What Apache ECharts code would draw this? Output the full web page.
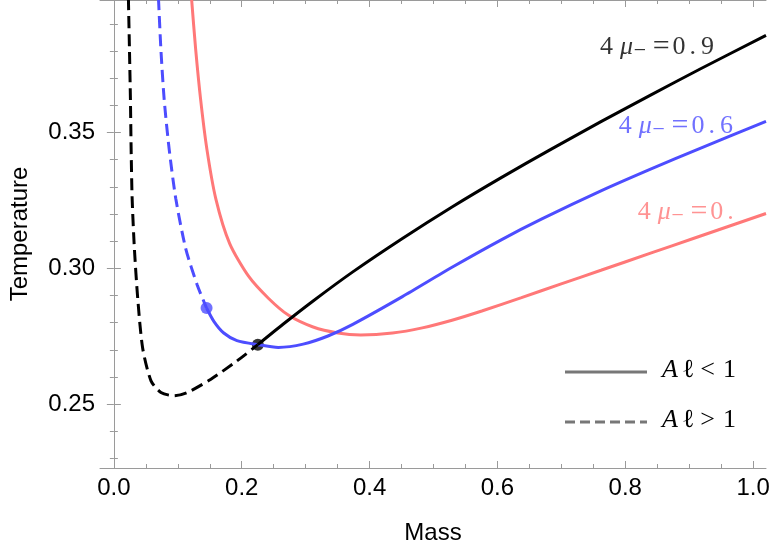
<!DOCTYPE html>
<html><head><meta charset="utf-8">
<script src="https://cdn.jsdelivr.net/npm/echarts@6/dist/echarts.min.js"></script>
<style>html,body{margin:0;padding:0;background:#fff}#c{width:773px;height:550px}</style>
</head><body><div id="c"></div>
<script>
// ---- data ----
const xMajorTicks = [0.0, 0.2, 0.4, 0.6, 0.8, 1.0];
const xMinorTicks = [0.05, 0.1, 0.15, 0.25, 0.3, 0.35, 0.45, 0.5, 0.55, 0.65, 0.7, 0.75, 0.85, 0.9, 0.95];
const yMajorTicks = [0.25, 0.30, 0.35];
const yMinorTicks = [0.23, 0.24, 0.26, 0.27, 0.28, 0.29, 0.31, 0.32, 0.33, 0.34, 0.36, 0.37, 0.38, 0.39];

// 4 mu = 0  (all A l < 1)
const redMass = [0.1193, 0.1217, 0.1280, 0.1357, 0.1455, 0.1595, 0.1812, 0.2107, 0.2417, 0.2728, 0.3117, 0.3505, 0.3862, 0.4359, 0.4825, 0.5290, 0.5756, 0.6377, 0.6998, 0.7620, 0.8396, 0.9064, 1.0202];
const redTemp = [0.4061, 0.3988, 0.3805, 0.3622, 0.3439, 0.3256, 0.3091, 0.2971, 0.2890, 0.2828, 0.2784, 0.2762, 0.2755, 0.2762, 0.2781, 0.2809, 0.2843, 0.2892, 0.2943, 0.2993, 0.3056, 0.3110, 0.3202];

// 4 mu = 0.6
const blueDashMass = [0.0686, 0.0699, 0.0736, 0.0787, 0.0865, 0.0969, 0.1124, 0.1304, 0.1450];
const blueDashTemp = [0.4061, 0.3988, 0.3805, 0.3622, 0.3439, 0.3256, 0.3073, 0.2939, 0.2854];
const blueSolidMass = [0.1450, 0.1564, 0.1719, 0.1925, 0.2252, 0.2573, 0.2961, 0.3349, 0.3738, 0.4514, 0.5290, 0.6067, 0.6688, 0.7620, 0.8396, 0.9172, 1.0202];
const blueSolidTemp = [0.2854, 0.2805, 0.2762, 0.2734, 0.2719, 0.2709, 0.2721, 0.2751, 0.2794, 0.2896, 0.3004, 0.3106, 0.3181, 0.3285, 0.3365, 0.3442, 0.3541];

// 4 mu = 0.9
const blackDashMass = [0.0224, 0.0228, 0.0244, 0.0259, 0.0270, 0.0286, 0.0321, 0.0373, 0.0450, 0.0581, 0.0736, 0.0943, 0.1149, 0.1512, 0.1925, 0.2252];
const blackDashTemp = [0.4061, 0.3988, 0.3805, 0.3622, 0.3439, 0.3256, 0.3073, 0.2890, 0.2707, 0.2586, 0.2543, 0.2531, 0.2543, 0.2591, 0.2659, 0.2719];
const blackSolidMass = [0.2252, 0.2651, 0.3117, 0.3738, 0.4514, 0.5290, 0.6067, 0.6843, 0.7620, 0.8396, 0.9172, 1.0202];
const blackSolidTemp = [0.2719, 0.2795, 0.2880, 0.2987, 0.3110, 0.3226, 0.3335, 0.3439, 0.3540, 0.3638, 0.3734, 0.3858];

// transition points (A l = 1)
const blueDot = [0.1450, 0.2854];
const blackDot = [0.2252, 0.2719];

const curveValues = ['0.9', '0.6', '0.'];
const legendLabels = ['<', '>'];

// ---- styling ----
const X_MIN = -0.0217, X_MAX = 1.0202, Y_MIN = 0.2265, Y_MAX = 0.3988;
const FRAME = '#9a9a9a';
const BLACK = '#000000', BLUE = '#4d4dff', RED = '#ff7878';
const SANS = '"Liberation Sans", Arial, sans-serif';
const SERIF = '"Liberation Serif", "DejaVu Serif", serif';
const zip = (a, b) => a.map((v, i) => [v, b[i]]);

function tickAxis(kind, position, ticks, len, showLine, showLabels, extra) {
  return {
    type: 'value', position, min: kind === 'x' ? X_MIN : Y_MIN, max: kind === 'x' ? X_MAX : Y_MAX,
    splitLine: { show: false },
    axisLine: { show: showLine, lineStyle: { color: FRAME, width: 1 } },
    axisTick: { show: true, inside: true, length: len, customValues: ticks, lineStyle: { color: FRAME, width: 1 } },
    axisLabel: showLabels ? Object.assign({ show: true, customValues: ticks, color: '#000', fontFamily: SANS, fontSize: 24 }, extra) : { show: false }
  };
}

const xAxes = [
  Object.assign(tickAxis('x', 'bottom', xMajorTicks, 7, true, true, { margin: 8, formatter: v => v.toFixed(1) }),
    { name: 'Mass', nameLocation: 'middle', nameGap: 53, nameTextStyle: { color: '#000', fontFamily: SANS, fontSize: 24 } }),
  tickAxis('x', 'bottom', xMinorTicks, 4, false, false),
  tickAxis('x', 'top', xMajorTicks, 7, true, false),
  tickAxis('x', 'top', xMinorTicks, 4, false, false)
];
const yAxes = [
  Object.assign(tickAxis('y', 'left', yMajorTicks, 7, true, true, { margin: 5, formatter: v => v.toFixed(2) }),
    { name: 'Temperature', nameLocation: 'middle', nameGap: 68, nameTextStyle: { color: '#000', fontFamily: SANS, fontSize: 24 } }),
  tickAxis('y', 'left', yMinorTicks, 4, false, false),
  tickAxis('y', 'right', yMajorTicks, 7, true, false),
  tickAxis('y', 'right', yMinorTicks, 4, false, false)
];

function lineSeries(mass, temp, color, dashed) {
  return {
    type: 'line', data: zip(mass, temp), showSymbol: false, smooth: 0.25, clip: true, silent: true,
    lineStyle: { color, width: 3, type: dashed ? [12, 6] : 'solid', cap: 'butt' }
  };
}

function labelRich(color) {
  const f = { fontFamily: SERIF, fontSize: 26, color };
  return {
    n: f,
    m: Object.assign({}, f, { fontStyle: 'italic', padding: [0, 0, 0, 7] }),
    s: Object.assign({}, f, { padding: [0, 6, 0, 0] }),
    e: Object.assign({}, f, { padding: [0, 3, 0, 0], fontSize: 30 }),
    p: Object.assign({}, f, { padding: [0, 5, 0, 4] }),
    a: Object.assign({}, f, { fontStyle: 'italic', padding: [0, 4, 0, 0] }),
    r: Object.assign({}, f, { padding: [0, 8, 0, 6] })
  };
}
function curveText(value) {
  const parts = value.split('.');
  return '{n|4}{m|μ}{s|₋}{e|=}{n|' + parts[0] + '}{p|.}' + (parts[1] ? '{n|' + parts[1] + '}' : '');
}
function curveLabelSeries(value, pos, color) {
  return {
    type: 'scatter', data: [pos], symbolSize: 0, silent: true,
    label: { show: true, position: [0, 0], align: 'left', verticalAlign: 'middle', formatter: curveText(value), rich: labelRich(color) }
  };
}

const chart = echarts.init(document.getElementById('c'), null, { renderer: 'canvas' });
chart.setOption({
  animation: false,
  backgroundColor: '#fff',
  grid: { left: 95, right: 7, top: 0, bottom: 79, containLabel: false },
  xAxis: xAxes,
  yAxis: yAxes,
  series: [
    lineSeries(redMass, redTemp, RED, false),
    lineSeries(blueDashMass, blueDashTemp, BLUE, true),
    lineSeries(blueSolidMass, blueSolidTemp, BLUE, false),
    lineSeries(blackDashMass, blackDashTemp, BLACK, true),
    lineSeries(blackSolidMass, blackSolidTemp, BLACK, false),
    { type: 'scatter', data: [blueDot], symbolSize: 12, itemStyle: { color: BLUE }, silent: true },
    { type: 'scatter', data: [blackDot], symbolSize: 12, itemStyle: { color: BLACK }, silent: true },
    curveLabelSeries(curveValues[0], [0.7604, 0.3816], BLACK),
    curveLabelSeries(curveValues[1], [0.7899, 0.3523], BLUE),
    curveLabelSeries(curveValues[2], [0.8194, 0.3208], RED)
  ],
  graphic: [
    { type: 'line', shape: { x1: 565, y1: 372, x2: 647, y2: 372 }, style: { stroke: '#777', lineWidth: 3 } },
    { type: 'line', shape: { x1: 565, y1: 422, x2: 647, y2: 422 }, style: { stroke: '#777', lineWidth: 3, lineDash: [10, 5] } },
    { type: 'text', left: 662, top: 357, style: { text: '{a|A}{n|ℓ}{r|' + legendLabels[0] + '}{n|1}', rich: labelRich('#000') } },
    { type: 'text', left: 662, top: 407, style: { text: '{a|A}{n|ℓ}{r|' + legendLabels[1] + '}{n|1}', rich: labelRich('#000') } }
  ]
});
</script>
</body></html>
